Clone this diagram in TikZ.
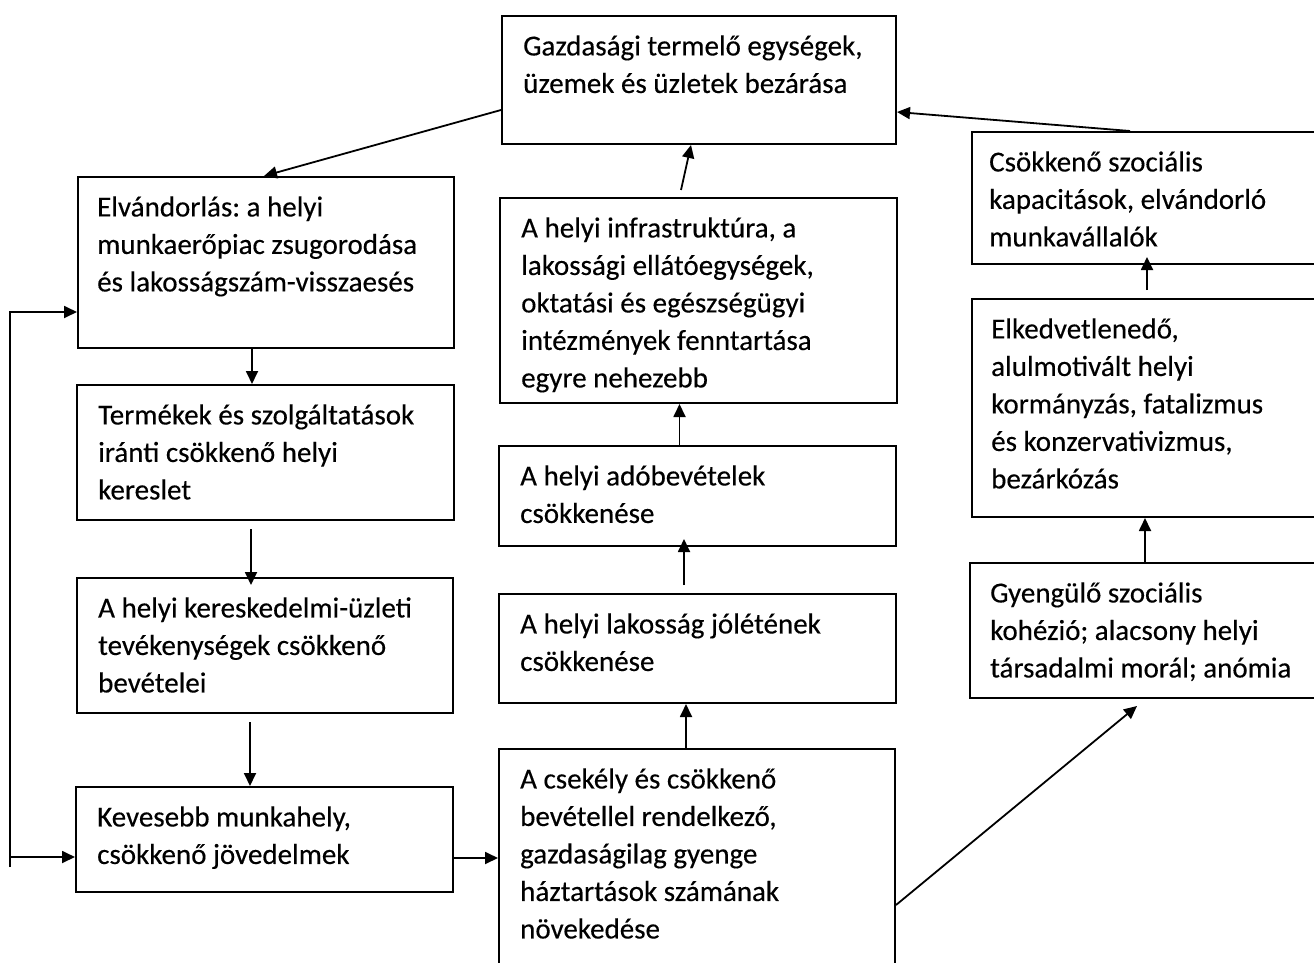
\documentclass[tikz,border=0pt]{standalone}
\usepackage{fontspec}
\setmainfont{Carlito}[FakeBold=0.3]
\usetikzlibrary{arrows.meta}
\tikzset{
  boxst/.style={draw, line width=2pt, inner sep=0pt, anchor=north west},
  txt/.style={anchor=north west, inner sep=0pt, align=left, font=\fontsize{29}{37.5}\selectfont\frenchspacing},
  arr/.style={line width=1.8pt, -{Triangle[length=13pt,width=12pt]}}
}
\begin{document}
\begin{tikzpicture}[x=1pt,y=-1pt]
\useasboundingbox (0,0) rectangle (1314,963);
\clip (0,0) rectangle (1314,963);
\fill[white] (0,0) rectangle (1314,963);
% boxes
\node[boxst, minimum width=394pt, minimum height=128pt] (top) at (501,15) {};
\node[boxst, minimum width=376pt, minimum height=171pt] (elv) at (77,176) {};
\node[boxst, minimum width=377pt, minimum height=135pt] (term) at (76,384) {};
\node[boxst, minimum width=376pt, minimum height=135pt] (ker) at (76,577) {};
\node[boxst, minimum width=377pt, minimum height=105pt] (kev) at (75,786) {};
\node[boxst, minimum width=397pt, minimum height=205pt] (infra) at (499,197) {};
\node[boxst, minimum width=397pt, minimum height=100pt] (ado) at (498,445) {};
\node[boxst, minimum width=397pt, minimum height=109pt] (jol) at (498,593) {};
\node[boxst, minimum width=396pt, minimum height=260pt] (cse) at (498,748) {};
\node[boxst, minimum width=400pt, minimum height=132pt] (csk) at (971,131) {};
\node[boxst, minimum width=400pt, minimum height=218pt] (elk) at (971,298) {};
\node[boxst, minimum width=400pt, minimum height=135pt] (gye) at (969,562) {};
% texts
\node[txt] (topT) at ([shift={(22pt,-14pt)}]top.north west) {\strut Gazdasági termelő egységek,\\üzemek és üzletek bezárása};
\node[txt] (elvT) at ([shift={(20pt,-14pt)}]elv.north west) {\strut Elvándorlás: a helyi\\munkaerőpiac zsugorodása\\és lakosságszám-visszaesés};
\node[txt] (termT) at ([shift={(22pt,-14pt)}]term.north west) {\strut Termékek és szolgáltatások\\iránti csökkenő helyi\\kereslet};
\node[txt] (kerT) at ([shift={(22pt,-14pt)}]ker.north west) {\strut A helyi kereskedelmi-üzleti\\tevékenységek csökkenő\\bevételei};
\node[txt] (kevT) at ([shift={(22pt,-14pt)}]kev.north west) {\strut Kevesebb munkahely,\\csökkenő jövedelmek};
\node[txt] (infraT) at ([shift={(22pt,-14pt)}]infra.north west) {\strut A helyi infrastruktúra, a\\lakossági ellátóegységek,\\oktatási és egészségügyi\\intézmények fenntartása\\egyre nehezebb};
\node[txt] (adoT) at ([shift={(22pt,-14pt)}]ado.north west) {\strut A helyi adóbevételek\\csökkenése};
\node[txt] (jolT) at ([shift={(22pt,-14pt)}]jol.north west) {\strut A helyi lakosság jólétének\\csökkenése};
\node[txt] (cseT) at ([shift={(22pt,-14pt)}]cse.north west) {\strut A csekély és csökkenő\\bevétellel rendelkező,\\gazdaságilag gyenge\\háztartások számának\\növekedése};
\node[txt] (cskT) at ([shift={(18pt,-14pt)}]csk.north west) {\strut Csökkenő szociális\\kapacitások, elvándorló\\munkavállalók};
\node[txt] (elkT) at ([shift={(20pt,-14pt)}]elk.north west) {\strut Elkedvetlenedő,\\alulmotivált helyi\\kormányzás, fatalizmus\\és konzervativizmus,\\bezárkózás};
\node[txt] (gyeT) at ([shift={(21pt,-14pt)}]gye.north west) {\strut Gyengülő szociális\\kohézió; alacsony helyi\\társadalmi morál; anómia};
% connectors
\draw[arr] ([yshift=-30pt]top.west) -- ([xshift=-2pt]elv.north);
\draw[arr] ([xshift=159pt]csk.north west) -- ([yshift=-32pt]top.east);
\draw[arr] ([xshift=-17.5pt,yshift=7pt]infra.north) -- ([xshift=-8pt]top.south);
\draw[arr] ([xshift=-18pt]ado.north) -- ([xshift=-18pt]ado.north |- infra.south);
\draw[arr] ([xshift=-13.5pt,yshift=8pt]jol.north) -- ([xshift=-13.5pt,yshift=8pt]jol.north |- ado.south);
\draw[arr] ([xshift=-11pt]cse.north) -- ([xshift=-11pt]cse.north |- jol.south);
\draw[arr] ([xshift=-14pt]elv.south) -- ([xshift=-14pt]elv.south |- term.north);
\draw[arr] ([xshift=-14.5pt,yshift=-8pt]term.south) -- ([xshift=-14.5pt,yshift=-8pt]term.south |- ker.north);
\draw[arr] ([xshift=-15pt,yshift=-8pt]ker.south) -- ([xshift=-15pt]ker.south |- kev.north);
\draw[arr] ([yshift=-18.5pt]kev.east) -- ([yshift=-18.5pt]kev.east -| cse.west);
\coordinate (fbA) at (10,867);
\coordinate (fbB) at (10,857);
\draw[arr] (fbA) |- ([yshift=-49.5pt]elv.west);
\draw[arr] (fbB) -- (fbB -| kev.west);
\draw[arr] ([yshift=-157pt]cse.north east) -- ([xshift=168pt,yshift=-7pt]gye.south west);
\draw[arr] ([xshift=176pt]gye.north west) -- ([xshift=176pt]gye.north west |- elk.south);
\draw[arr] ([xshift=176pt,yshift=8pt]elk.north west) -- ([xshift=176pt,yshift=8pt]elk.north west |- csk.south);
\end{tikzpicture}
\end{document}
